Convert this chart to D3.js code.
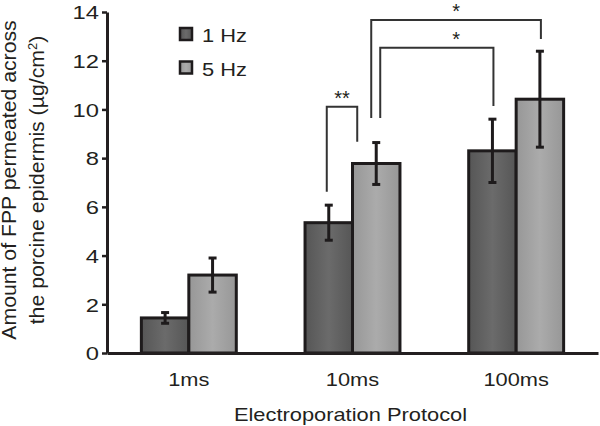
<!DOCTYPE html>
<html>
<head>
<meta charset="utf-8">
<script src="https://cdn.jsdelivr.net/npm/d3@7"></script>
<style>
  body { margin: 0; background: #fff; }
  text { font-family: "Liberation Sans", Arial, sans-serif; fill: #231f20; }
</style>
</head>
<body>
<div id="chart"></div>
<script>
// data
const protocols = ["1ms", "10ms", "100ms"];
const frequencies = ["1 Hz", "5 Hz"];
const means1Hz = [1.44, 5.35, 8.3];
const means5Hz = [3.2, 7.78, 10.42];
const err1Hz = [0.22, 0.72, 1.3];
const err5Hz = [0.7, 0.86, 1.97];
const yTicks = [0, 2, 4, 6, 8, 10, 12, 14];

// significance brackets: [protocol, freq] for each leg, y in data units
const brackets = [
  { label: "**", from: ["10ms", "1 Hz"], to: ["10ms", "5 Hz"], top: 10.11, fromLow: 6.62, toLow: 8.67 },
  { label: "*", from: ["10ms", "5 Hz"], to: ["100ms", "1 Hz"], top: 12.53, fromLow: 9.65, toLow: 10.14 },
  { label: "*", from: ["10ms", "5 Hz"], to: ["100ms", "5 Hz"], top: 13.67, fromLow: 9.65, toLow: 12.89 },
];

const width = 600, height = 426;
const marginLeft = 107, marginRight = 2, marginTop = 12, marginBottom = 73;

const data = protocols.flatMap((p, i) => [
  { protocol: p, freq: "1 Hz", value: means1Hz[i], err: err1Hz[i] },
  { protocol: p, freq: "5 Hz", value: means5Hz[i], err: err5Hz[i] },
]);

const x0 = d3.scaleBand().domain(protocols).range([marginLeft, width - marginRight]);
const x1 = d3.scaleBand().domain(frequencies)
  .range([x0.bandwidth() * 0.21, x0.bandwidth() * 0.79]);
const y = d3.scaleLinear().domain([0, 14]).range([height - marginBottom, marginTop]);

const svg = d3.select("#chart").append("svg")
  .attr("width", width).attr("height", height)
  .attr("viewBox", [0, 0, width, height]);

// the figure's lettering is stretched sideways
const stretch = (sel, k) => sel.each(function () {
  const len = this.getComputedTextLength();
  d3.select(this).attr("textLength", len * k).attr("lengthAdjust", "spacingAndGlyphs");
});

const defs = svg.append("defs");
const grads = { "1 Hz": ["#565656", "#6b6b6b"], "5 Hz": ["#979797", "#ababab"] };
Object.entries(grads).forEach(([k, [edge, mid]], i) => {
  const g = defs.append("linearGradient").attr("id", "g" + i)
    .attr("x1", 0).attr("x2", 1).attr("y1", 0).attr("y2", 0);
  g.append("stop").attr("offset", "0%").attr("stop-color", edge);
  g.append("stop").attr("offset", "50%").attr("stop-color", mid);
  g.append("stop").attr("offset", "100%").attr("stop-color", edge);
});
const fillFor = (f) => `url(#g${frequencies.indexOf(f)})`;
const cx = (p, f) => x0(p) + x1(f) + x1.bandwidth() / 2;

// bars
svg.append("g").selectAll("rect").data(data).join("rect")
  .attr("x", (d) => x0(d.protocol) + x1(d.freq))
  .attr("y", (d) => y(d.value))
  .attr("width", x1.bandwidth())
  .attr("height", (d) => y(0) - y(d.value))
  .attr("fill", (d) => fillFor(d.freq))
  .attr("stroke", "#1e1b1c")
  .attr("stroke-width", 3);

// error bars
const eb = svg.append("g").attr("stroke", "#1e1b1c").attr("stroke-width", 3)
  .selectAll("g").data(data).join("g");
eb.append("line")
  .attr("x1", (d) => cx(d.protocol, d.freq)).attr("x2", (d) => cx(d.protocol, d.freq))
  .attr("y1", (d) => y(d.value + d.err)).attr("y2", (d) => y(d.value - d.err));
[1, -1].forEach((s) => {
  eb.append("line")
    .attr("x1", (d) => cx(d.protocol, d.freq) - 4).attr("x2", (d) => cx(d.protocol, d.freq) + 4)
    .attr("y1", (d) => y(d.value + s * d.err)).attr("y2", (d) => y(d.value + s * d.err));
});

// axes
const yAxis = d3.axisLeft(y).tickValues(yTicks).tickSize(5).tickSizeOuter(0).tickPadding(3);
const yG = svg.append("g").attr("transform", `translate(${marginLeft},0)`).call(yAxis);
yG.select(".domain").attr("stroke", "#231f20").attr("stroke-width", 3);
yG.selectAll(".tick line").attr("stroke", "#231f20").attr("stroke-width", 2.5);
yG.selectAll(".tick text").attr("font-size", 19).attr("fill", "#231f20")
  .attr("font-family", "Liberation Sans, Arial, sans-serif")
  .call(stretch, 1.25)
  .attr("dy", "0.36em");

const xAxis = d3.axisBottom(x0).tickSize(0).tickSizeOuter(0).tickPadding(20);
const xG = svg.append("g").attr("transform", `translate(0,${y(0)})`).call(xAxis);
xG.select(".domain").attr("stroke", "#231f20").attr("stroke-width", 3);
xG.selectAll(".tick text").attr("font-size", 18.5).attr("fill", "#231f20")
  .attr("font-family", "Liberation Sans, Arial, sans-serif")
  .call(stretch, 1.18);

svg.append("text")
  .attr("x", (marginLeft + width) / 2 - 3).attr("y", 421)
  .attr("text-anchor", "middle").attr("font-size", 19)
  .text("Electroporation Protocol").call(stretch, 1.15);

// y title, two lines
const yTitle = svg.append("text")
  .attr("transform", "translate(0,180) rotate(-90) scale(1.09,1)")
  .attr("text-anchor", "middle").attr("font-size", 19.5);
yTitle.append("tspan").attr("x", 0).attr("y", 16).text("Amount of FPP permeated across");
const l2 = yTitle.append("tspan").attr("x", 0).attr("y", 44);
l2.append("tspan").text("the porcine epidermis (\u00b5g/cm");
l2.append("tspan").attr("font-size", 12).attr("dy", -7).text("2");
l2.append("tspan").attr("dy", 7).text(")");

// legend
const legend = svg.append("g").selectAll("g").data(frequencies).join("g")
  .attr("transform", (d, i) => `translate(180,${28 + i * 33.5})`);
legend.append("rect").attr("width", 12).attr("height", 12)
  .attr("fill", (d) => fillFor(d)).attr("stroke", "#1e1b1c").attr("stroke-width", 2.5);
legend.append("text").attr("x", 22).attr("y", 14).attr("font-size", 18.5)
  .text((d) => d).call(stretch, 1.18);

// significance brackets
const bg = svg.append("g");
let starX = null;
brackets.slice().reverse().forEach((b) => {
  const sameGroup = b.to[0] === b.from[0];
  const xa = cx(...b.from) + (sameGroup ? -2 : b.top > 13 ? -5 : 4);
  const xb = cx(...b.to) + (sameGroup ? -19 : 1);
  bg.append("path")
    .attr("fill", "none").attr("stroke", "#333").attr("stroke-width", 2)
    .attr("d", d3.line()([[xa, y(b.fromLow)], [xa, y(b.top)], [xb, y(b.top)], [xb, y(b.toLow)]]));
  // both single stars sit over the middle of the wide bracket
  let tx = (xa + xb) / 2;
  if (!sameGroup) { if (starX === null) starX = tx; tx = starX; }
  bg.append("text")
    .attr("x", tx).attr("y", y(b.top) - 2)
    .attr("text-anchor", "middle").attr("font-size", 20)
    .text(b.label);
});
</script>
</body>
</html>
